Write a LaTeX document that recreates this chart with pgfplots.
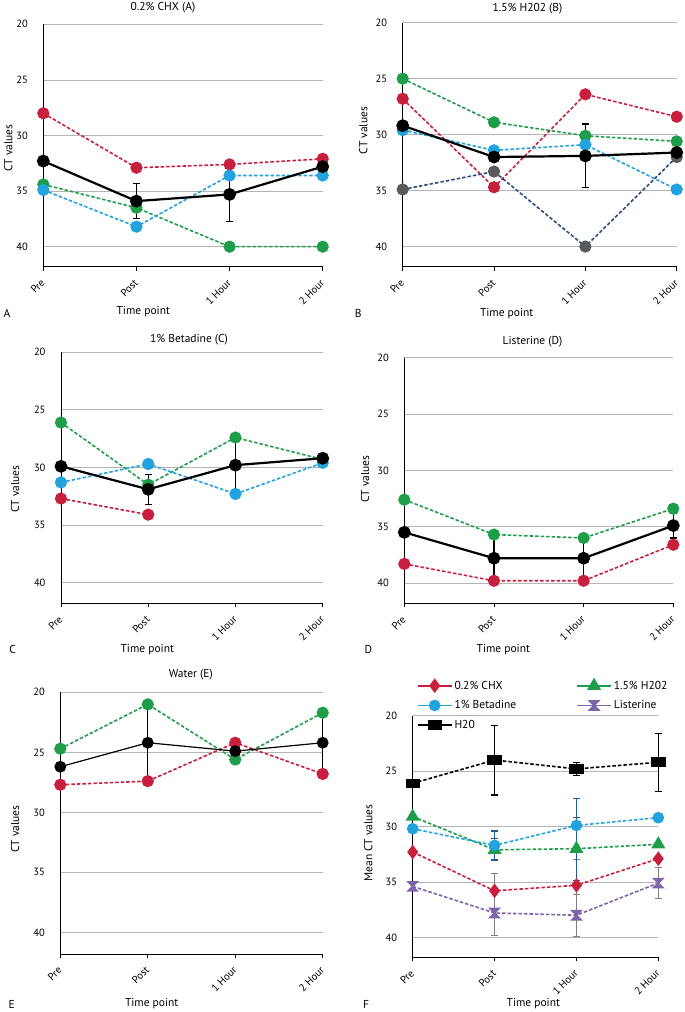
\documentclass[border=0pt]{standalone}
\usepackage{pgfplots}
\pgfplotsset{compat=1.18}
\usepackage{fontspec}
\setmainfont{PT Sans}

\definecolor{cred}{HTML}{C91F3F}
\definecolor{cgreen}{HTML}{1E9E4A}
\definecolor{ccyan}{HTML}{23A3DD}
\definecolor{cpurple}{HTML}{7B64A8}
\definecolor{cgraymk}{HTML}{5A5A5A}
\definecolor{cnavy}{HTML}{2C4D7E}
\definecolor{cerrblue}{HTML}{1F5A9A}
\definecolor{gridgray}{HTML}{B4B4B4}

\newcommand{\ticks}{\fontsize{10.5}{11}\selectfont}
\newcommand{\lab}{\fontsize{11.5}{12}\selectfont}

\pgfdeclareplotmark{hourglass}{%
  \pgfpathmoveto{\pgfqpoint{-\pgfplotmarksize}{\pgfplotmarksize}}%
  \pgfpathlineto{\pgfqpoint{\pgfplotmarksize}{\pgfplotmarksize}}%
  \pgfpathlineto{\pgfqpoint{-\pgfplotmarksize}{-\pgfplotmarksize}}%
  \pgfpathlineto{\pgfqpoint{\pgfplotmarksize}{-\pgfplotmarksize}}%
  \pgfpathclose
  \pgfusepathqfillstroke}

\pgfplotsset{
  panel/.style={
    scale only axis, anchor=center, clip=false,
    xmin=0, xmax=3, ymin=20, ymax=41.8, y dir=reverse,
    xtick={0,1,2,3}, xticklabels={Pre,Post,1 Hour,2 Hour},
    ytick={20,25,30,35,40},
    ymajorgrids, grid style={draw=gridgray, line width=0.8pt},
    axis x line*=bottom, axis y line*=left,
    axis line style={black, line width=1pt, -},
    tick align=outside, major tick length=4pt,
    ytick style={draw=none},
    xtick style={black, line width=0.8pt},
    x tick label style={xshift=2pt, yshift=-8pt, rotate=45, anchor=east, font=\ticks},
    y tick label style={font=\ticks, xshift=-8pt},
    /pgf/number format/assume math mode=true,
  },
  dashline/.style={#1, line width=1.6pt, dash pattern=on 3.5pt off 2pt,
    mark=*, mark size=5.3pt, mark options={solid, fill=#1, draw=#1}},
  meanline/.style={black, line width=2.2pt, solid,
    mark=*, mark size=5.3pt, mark options={solid, fill=black}},
  errb/.style={forget plot, draw=none, mark=none,
    error bars/.cd, y dir=both, y explicit,
    error bar style={line width=1.1pt, #1, solid},
    error mark options={rotate=90, mark size=3.5pt, line width=1.1pt, #1, solid}},
}

\begin{document}
\begin{tikzpicture}
\useasboundingbox (0,0) rectangle (685pt,-1012pt);

% ---------------- A: 0.2% CHX
\begin{axis}[panel, at={(183pt,-145.5pt)}, width=279.4pt, height=242.4pt]
  \addplot[dashline=cgreen] coordinates {(0,34.4) (1,36.5) (2,40.0) (3,40.0)};
  \addplot[dashline=cred] coordinates {(0,28.0) (1,32.9) (2,32.6) (3,32.1)};
  \addplot[dashline=ccyan] coordinates {(0,34.9) (1,38.2) (2,33.6) (3,33.6)};
  \addplot[errb=black] coordinates {(1,35.9) +- (0,1.6) (2,35.3) +- (0,2.4)};
  \addplot[meanline] coordinates {(0,32.3) (1,35.9) (2,35.3) (3,32.8)};
\end{axis}

% ---------------- B: 1.5% H2O2
\begin{axis}[panel, at={(539.7pt,-144.7pt)}, width=274pt, height=244pt]
  \addplot[dashline=cgreen] coordinates {(0,25.0) (1,28.9) (2,30.1) (3,30.6)};
  \addplot[dashline=cred] coordinates {(0,26.8) (1,34.7) (2,26.4) (3,28.4)};
  \addplot[cnavy, line width=1.6pt, dash pattern=on 3.5pt off 2pt,
    mark=*, mark size=5.3pt, mark options={solid, fill=cgraymk, draw=cgraymk}]
    coordinates {(0,34.9) (1,33.3) (2,40.0) (3,32.0)};
  \addplot[dashline=ccyan] coordinates {(0,29.6) (1,31.4) (2,30.9) (3,34.9)};
  \addplot[errb=black] coordinates {(2,31.9) +- (0,2.85)};
  \addplot[meanline] coordinates {(0,29.2) (1,32.0) (2,31.9) (3,31.6)};
\end{axis}

% ---------------- C: 1% Betadine
\begin{axis}[panel, at={(191.85pt,-477.8pt)}, width=261.7pt, height=251pt]
  \addplot[dashline=cred] coordinates {(0,32.7) (1,34.1)};
  \addplot[dashline=cgreen] coordinates {(0,26.1) (1,31.5) (2,27.4) (3,29.3)};
  \addplot[dashline=ccyan] coordinates {(0,31.3) (1,29.7) (2,32.3) (3,29.6)};
  \addplot[errb=black] coordinates {(1,31.9) +- (0,1.3) (2,29.8) +- (0,2.4)};
  \addplot[meanline] coordinates {(0,29.9) (1,31.9) (2,29.8) (3,29.2)};
\end{axis}

% ---------------- D: Listerine
\begin{axis}[panel, at={(538.8pt,-480.5pt)}, width=269pt, height=245.6pt]
  \addplot[dashline=cgreen] coordinates {(0,32.6) (1,35.7) (2,36.0) (3,33.4)};
  \addplot[dashline=cred] coordinates {(0,38.3) (1,39.8) (2,39.8) (3,36.6)};
  \addplot[errb=black] coordinates {(1,37.8) +- (0,2.0) (2,37.8) +- (0,2.0) (3,34.9) +- (0,1.1)};
  \addplot[meanline] coordinates {(0,35.5) (1,37.8) (2,37.8) (3,34.9)};
\end{axis}

% ---------------- E: Water
\begin{axis}[panel, at={(191.5pt,-823.15pt)}, width=262.4pt, height=261.7pt]
  \addplot[dashline=cgreen] coordinates {(0,24.7) (1,21.0) (2,25.6) (3,21.7)};
  \addplot[dashline=cred] coordinates {(0,27.7) (1,27.4) (2,24.2) (3,26.8)};
  \addplot[errb=black] coordinates {(1,24.2) +- (0,3.2) (2,24.9) +- (0,0.5) (3,24.2) +- (0,2.3)};
  \addplot[meanline, line width=1.2pt] coordinates {(0,26.2) (1,24.2) (2,24.9) (3,24.2)};
\end{axis}

% ---------------- F: means
\begin{axis}[panel, at={(535.5pt,-836.5pt)}, width=245.6pt, height=241.6pt,
  legend columns=2,
  legend cell align=left,
  legend style={at={(0,1)}, anchor=north west, xshift=1pt, yshift=39pt,
    draw=none, fill=none, font=\lab, row sep=6pt,
    /tikz/every even column/.append style={column sep=58pt}},
  legend image code/.code={\draw[mark repeat=2, mark phase=2, #1, solid]
    plot coordinates {(0pt,0pt) (17pt,0pt) (34pt,0pt)};},
]
  \addplot[errb=gray] coordinates {(1,35.8) +- (0,1.6) (2,35.3) +- (0,2.3)};
  \addplot[errb=gray] coordinates {(1,37.8) +- (0,2.05) (2,38.0) +- (0,1.9) (3,35.1) +- (0,1.4)};
  \addplot[errb=cerrblue] coordinates {(1,32.1) +- (0,1.0) (2,32.0) +- (0,2.85)};
  \addplot[errb=cerrblue] coordinates {(1,31.7) +- (0,1.3) (2,29.9) +- (0,2.4)};
  \addplot[errb=black] coordinates {(1,24.0) +- (0,3.15) (2,24.8) +- (0,0.6) (3,24.2) +- (0,2.6)};

  \addplot[cred, line width=1.6pt, dash pattern=on 3.5pt off 2pt,
    mark=diamond*, mark size=6pt, mark options={solid, fill=cred}]
    coordinates {(0,32.3) (1,35.8) (2,35.3) (3,32.9)};
  \addlegendentry{0.2\% CHX}
  \addplot[cgreen, line width=1.6pt, dash pattern=on 3.5pt off 2pt,
    mark=triangle*, mark size=6.5pt, mark options={solid, fill=cgreen}]
    coordinates {(0,29.1) (1,32.1) (2,32.0) (3,31.6)};
  \addlegendentry{1.5\% H202}
  \addplot[ccyan, line width=1.6pt, dash pattern=on 3.5pt off 2pt,
    mark=*, mark size=5pt, mark options={solid, fill=ccyan}]
    coordinates {(0,30.2) (1,31.7) (2,29.9) (3,29.2)};
  \addlegendentry{1\% Betadine}
  \addplot[cpurple, line width=1.6pt, dash pattern=on 3.5pt off 2pt,
    mark=hourglass, mark size=4.5pt, mark options={solid, fill=cpurple}]
    coordinates {(0,35.4) (1,37.8) (2,38.0) (3,35.1)};
  \addlegendentry{Listerine}
  \addplot[black, line width=1.6pt, dash pattern=on 3.5pt off 2pt,
    mark=square*, mark size=4pt, mark options={solid, fill=black, xscale=1.6}]
    coordinates {(0,26.1) (1,24.0) (2,24.8) (3,24.2)};
  \addlegendentry{H20}
\end{axis}

% ---------------- text around the panels
\node[font=\lab] at (163pt,-7.5pt) {0.2\% CHX (A)};
\node[font=\lab] at (527.5pt,-8.5pt) {1.5\% H202 (B)};
\node[font=\lab] at (189pt,-339.5pt) {1\% Betadine (C)};
\node[font=\lab] at (532.5pt,-341.5pt) {Listerine (D)};
\node[font=\lab] at (190.8pt,-675pt) {Water (E)};

\node[font=\lab, rotate=90] at (8.3pt,-148pt) {CT values};
\node[font=\lab, rotate=90] at (363.3pt,-130.5pt) {CT values};
\node[font=\lab, rotate=90] at (15pt,-489pt) {CT values};
\node[font=\lab, rotate=90] at (365pt,-479pt) {CT values};
\node[font=\lab, rotate=90] at (15pt,-829pt) {CT values};
\node[font=\lab, rotate=90] at (368.3pt,-843pt) {Mean CT values};

\node[font=\lab] at (143.3pt,-311.7pt) {Time point};
\node[font=\lab] at (506.7pt,-313.3pt) {Time point};
\node[font=\lab] at (147.3pt,-649.3pt) {Time point};
\node[font=\lab] at (503.3pt,-649.3pt) {Time point};
\node[font=\lab] at (151.7pt,-1004pt) {Time point};
\node[font=\lab] at (533.3pt,-1004pt) {Time point};

\node[font=\lab] at (7pt,-313pt) {A};
\node[font=\lab] at (358.3pt,-313.3pt) {B};
\node[font=\lab] at (12.7pt,-649.3pt) {C};
\node[font=\lab] at (368.3pt,-649.3pt) {D};
\node[font=\lab] at (11.7pt,-1004pt) {E};
\node[font=\lab] at (366pt,-1004pt) {F};
\end{tikzpicture}
\end{document}
